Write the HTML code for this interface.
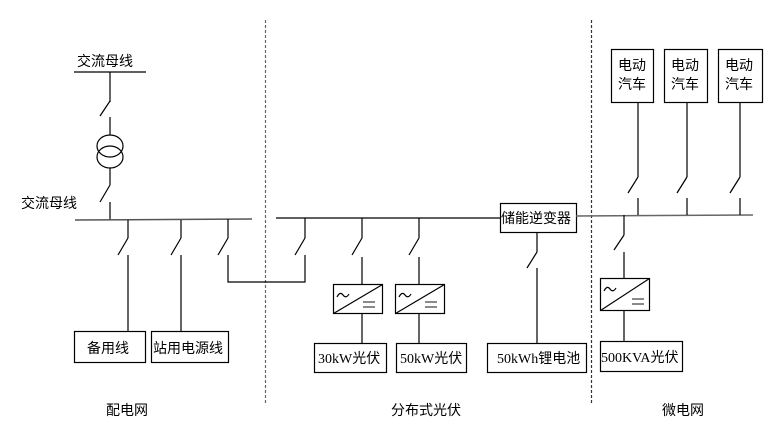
<!DOCTYPE html>
<html><head><meta charset="utf-8"><style>
html,body{margin:0;padding:0;background:#fff;}
svg{display:block;}
text{font-family:"Liberation Serif","Noto Sans CJK SC",serif;font-size:14px;fill:#000;}
.c{font-family:"Liberation Sans","Noto Sans CJK SC",sans-serif;}
</style></head><body>
<svg width="779" height="441" viewBox="0 0 779 441" xmlns="http://www.w3.org/2000/svg">
<g stroke="#000" stroke-width="1.2" fill="none">
<line x1="265.5" y1="20" x2="265.5" y2="405" stroke="#666" stroke-dasharray="3,2"/>
<line x1="591.5" y1="20" x2="591.5" y2="405" stroke="#333" stroke-dasharray="3,2"/>
<line x1="74" y1="72" x2="146" y2="72"/>
<line x1="110" y1="72" x2="110" y2="102"/>
<line x1="110" y1="101" x2="100" y2="116"/>
<line x1="110" y1="117" x2="110" y2="135"/>
<ellipse cx="110" cy="146" rx="13" ry="11"/>
<ellipse cx="110" cy="157" rx="13" ry="11"/>
<line x1="110" y1="168" x2="110" y2="185"/>
<line x1="110" y1="185" x2="100" y2="202"/>
<line x1="110" y1="202" x2="110" y2="220"/>
<line x1="75" y1="220" x2="252" y2="219" stroke="#555" stroke-width="1.5"/>
<line x1="128" y1="220" x2="128" y2="238"/><line x1="128" y1="238" x2="118" y2="255"/><line x1="128" y1="255" x2="128" y2="331"/>
<line x1="181" y1="220" x2="181" y2="238"/><line x1="181" y1="238" x2="171" y2="255"/><line x1="181" y1="255" x2="181" y2="331"/>
<line x1="228" y1="219" x2="228" y2="238"/><line x1="228" y1="238" x2="218" y2="255"/><polyline points="228,255 228,282 305,282 305,255"/>
<rect x="74.5" y="331.5" width="71" height="31"/>
<rect x="151.5" y="331.5" width="77" height="31"/>
<line x1="276" y1="218" x2="500" y2="218"/>
<line x1="305" y1="218" x2="305" y2="238"/><line x1="305" y1="238" x2="295" y2="255"/>
<line x1="362" y1="218" x2="362" y2="238"/><line x1="362" y1="238" x2="352" y2="255"/><line x1="362" y1="257" x2="362" y2="284"/>
<line x1="419" y1="218" x2="419" y2="238"/><line x1="419" y1="238" x2="409" y2="255"/><line x1="419" y1="257" x2="419" y2="284"/>
<rect x="333.5" y="284.5" width="49" height="29"/><line x1="333.5" y1="313.5" x2="382.5" y2="284.5"/>
<rect x="395.5" y="284.5" width="49" height="29"/><line x1="395.5" y1="313.5" x2="444.5" y2="284.5"/>
<line x1="362" y1="313" x2="362" y2="343"/><line x1="419" y1="313" x2="419" y2="343"/>
<rect x="314.5" y="343.5" width="72" height="29"/>
<rect x="396.5" y="343.5" width="70" height="29"/>
<rect x="500.5" y="203.5" width="76" height="29"/>
<line x1="537" y1="232" x2="537" y2="252"/><line x1="537" y1="252" x2="527" y2="268"/><line x1="537" y1="268" x2="537" y2="343"/>
<rect x="487.5" y="343.5" width="99" height="29"/>
<line x1="576" y1="216" x2="753" y2="215" stroke="#666" stroke-width="1.5"/>
<rect x="611.5" y="49.5" width="42" height="53"/>
<rect x="664.5" y="49.5" width="43" height="53"/>
<rect x="718.5" y="49.5" width="44" height="53"/>
<line x1="638" y1="102" x2="638" y2="177"/><line x1="638" y1="177" x2="628" y2="193"/><line x1="638" y1="198" x2="638" y2="215"/>
<line x1="687" y1="102" x2="687" y2="177"/><line x1="687" y1="177" x2="677" y2="193"/><line x1="687" y1="198" x2="687" y2="215"/>
<line x1="740" y1="102" x2="740" y2="177"/><line x1="740" y1="177" x2="730" y2="193"/><line x1="740" y1="198" x2="740" y2="215"/>
<line x1="624" y1="215" x2="624" y2="235"/><line x1="624" y1="235" x2="614" y2="250"/><line x1="624" y1="252" x2="624" y2="278"/>
<rect x="600.5" y="278.5" width="49" height="32"/><line x1="600.5" y1="310.5" x2="649.5" y2="278.5"/>
<line x1="624" y1="310" x2="624" y2="341"/>
<rect x="600.5" y="341.5" width="82" height="30"/>
<!-- converter symbols -->
<path d="M337,297 q3,-6 6,-2 t6,-1"/>
<path d="M363,302 h12 M363,307 h12" stroke="#444"/>
<path d="M399,297 q3,-6 6,-2 t6,-1"/>
<path d="M425,302 h12 M425,307 h12" stroke="#444"/>
<path d="M604,291 q3,-6 6,-2 t6,-1"/>
<path d="M632,299 h12 M632,304 h12" stroke="#444"/>
</g>
<text class="c" x="77" y="66">交流母线</text>
<text class="c" x="21" y="208">交流母线</text>
<text class="c" x="87" y="353">备用线</text>
<text class="c" x="153" y="353">站用电源线</text>
<text class="c" x="501" y="223">储能逆变器</text>
<text x="318" y="363">30kW光伏</text>
<text x="400" y="363">50kW光伏</text>
<text x="497" y="363">50kWh锂电池</text>
<text x="601" y="362">500KVA光伏</text>
<text class="c" x="618" y="70">电动</text><text class="c" x="618" y="89">汽车</text>
<text class="c" x="671" y="70">电动</text><text class="c" x="671" y="89">汽车</text>
<text class="c" x="725" y="70">电动</text><text class="c" x="725" y="89">汽车</text>
<text class="c" x="106" y="415">配电网</text>
<text class="c" x="391" y="415">分布式光伏</text>
<text class="c" x="662" y="415">微电网</text>
</svg>
</body></html>
